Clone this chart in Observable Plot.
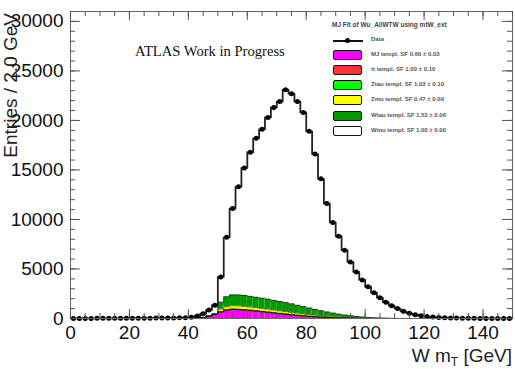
<!DOCTYPE html>
<html><head><meta charset="utf-8">
<script src="https://cdn.jsdelivr.net/npm/d3@7"></script>
<script src="https://cdn.jsdelivr.net/npm/@observablehq/plot@0.6"></script>
<style>
body{margin:0;background:#fff;}
#wrap{position:relative;width:515px;height:369px;overflow:hidden;font-family:"Liberation Sans",Arial,sans-serif;}
#legend{position:absolute;left:330px;top:19px;width:180px;height:120px;font-family:"Liberation Sans",Arial,sans-serif;color:#333;}
#legend .title{position:absolute;left:2px;top:2px;font-size:6.5px;font-weight:bold;white-space:nowrap;color:#444;}
#legend .row{position:absolute;left:3px;height:11px;width:170px;}
#legend .box{position:absolute;left:0;top:0;width:27px;height:8px;border:1.5px solid #111;border-radius:2px;}
#legend .lab{position:absolute;left:38px;top:1px;font-size:6px;white-space:nowrap;font-weight:bold;color:#555;}
#legend .dline{position:absolute;left:0;top:5px;width:30px;height:1.5px;background:#111;}
#legend .ddot{position:absolute;left:12px;top:3px;width:5px;height:5px;border-radius:50%;background:#000;}
</style></head><body><div id="wrap"><div id="chart"></div><div id="legend"></div></div>
<script>
// ---- data (2 GeV bins from 0 to 150) ----
const binWidth = 2;
const binLow = d3.range(0, 150, binWidth);
const dataCounts = [5,8,10,12,14,16,18,20,22,25,28,30,33,36,40,44,50,58,68,85,
  120,250,480,850,1350,4200,8200,11100,13300,15200,
  16800,18200,19100,20300,21300,21900,23100,22700,21900,20800,
  18900,16600,14100,11600,9700,8300,6900,5700,4700,3900,
  3200,2600,2100,1650,1300,1000,720,520,380,270,
  190,140,100,75,55,40,30,22,16,12,
  9,7,5,4,3];
const mjTempl = [0,0,0,0,0,0,0,0,0,0,0,0,0,0,0,0,0,0,0,0,
  0,30,100,250,450,650,830,900,880,840,790,730,670,610,540,480,420,360,300,250,200,160,125,95,70,50,35,25,18,12,8,5,3,2,1,
  0,0,0,0,0,0,0,0,0,0,0,0,0,0,0,0,0,0,0,0];
const ttTempl = [0,0,0,0,0,0,0,0,0,0,0,0,0,0,0,0,0,0,0,0,0,0,0,0,0,
  20,25,25,25,25,25,24,23,22,21,20,19,18,17,16,15,14,13,12,11,10,9,8,7,6,
  0,0,0,0,0,0,0,0,0,0,0,0,0,0,0,0,0,0,0,0,0,0,0,0,0];
const ztauTempl = [0,0,0,0,0,0,0,0,0,0,0,0,0,0,0,0,0,0,0,0,0,0,0,0,0,
  30,40,45,45,45,44,43,42,40,38,36,34,32,30,28,25,22,20,18,16,14,12,10,8,6,
  0,0,0,0,0,0,0,0,0,0,0,0,0,0,0,0,0,0,0,0,0,0,0,0,0];
const zmuTempl = [0,0,0,0,0,0,0,0,0,0,0,0,0,0,0,0,0,0,0,0,0,0,0,0,0,
  250,300,320,320,310,300,290,280,270,255,240,225,210,190,170,150,130,110,90,75,60,48,38,30,22,16,12,8,5,3,
  0,0,0,0,0,0,0,0,0,0,0,0,0,0,0,0,0,0,0,0];
const wtauTempl = [0,0,0,0,0,0,0,0,0,0,0,0,0,0,0,0,0,0,0,0,0,0,0,0,0,
  700,1000,1100,1110,1100,1080,1060,1040,1010,980,950,910,860,800,740,670,600,520,450,380,310,250,200,150,110,80,55,38,25,16,10,6,4,
  0,0,0,0,0,0,0,0,0,0,0,0,0,0,0,0,0];
const wmuTempl = [5,8,10,12,14,16,18,20,22,25,28,30,33,36,40,44,50,58,68,85,
  120,220,380,600,900,2550,6000,8710,10920,12880,14560,16050,17050,18350,19470,
  20170,21490,21220,20560,19600,17840,15670,13310,10935,9150,7860,6550,5420,4490,3745,
  3100,2530,2050,1620,1280,990,714,516,
  380,270,190,140,100,75,55,40,30,22,16,12,9,7,5,4,3];
const compNames = ["MJ templ. SF 0.60 \u00b1 0.03","tt templ. SF 1.00 \u00b1 0.10","Ztau templ. SF 1.03 \u00b1 0.10",
  "Zmu templ. SF 0.47 \u00b1 0.09","Wtau templ. SF 1.53 \u00b1 0.06","Wmu templ. SF 1.00 \u00b1 0.00"];
const compColors = ["#ff00ff","#ff3333","#00ff00","#ffff00","#009900","#ffffff"];
const compValues = [mjTempl, ttTempl, ztauTempl, zmuTempl, wtauTempl, wmuTempl];
const xMajor = [0,20,40,60,80,100,120,140];
const xMinor = d3.range(0, 151, 5);
const yMajor = [0,5000,10000,15000,20000,25000,30000];
const yMinor = d3.range(0, 31001, 1000);
const legendTitle = "MJ Fit of Wu_AllWTW using mtW_ext";

// ---- derived tables ----
const rects = [], outline = [];
binLow.forEach((lo, i) => {
  let base = 0;
  compValues.forEach((vals, k) => {
    const top = base + vals[i];
    rects.push({x1: lo, x2: lo + binWidth, y1: base, y2: top, color: compColors[k]});
    outline.push({x: lo, y: top, level: k});
    if (i === binLow.length - 1) outline.push({x: lo + binWidth, y: top, level: k});
    base = top;
  });
});
const points = binLow.map((lo, i) => ({x: lo + binWidth / 2, y: dataCounts[i]}));

const W = 515, H = 369, mL = 70, mR = 3, mT = 11, mB = 51;
const fw = W - mL - mR, fh = H - mT - mB;
const tickCol = "#555";

const chart = Plot.plot({
  width: W, height: H,
  marginLeft: mL, marginRight: mR, marginTop: mT, marginBottom: mB,
  x: {domain: [0, 150]},
  y: {domain: [0, 31000]},
  color: {type: "identity"},
  style: {fontFamily: "Liberation Sans, Arial, sans-serif", fontSize: "19px", color: "#111", background: "#fff"},
  marks: [
    Plot.rect(rects, {x1: "x1", x2: "x2", y1: "y1", y2: "y2", fill: "color"}),
    Plot.line(outline.filter(d => d.level < 5), {x: "x", y: "y", z: "level", curve: "step-after", stroke: "#111", strokeWidth: 0.7, strokeOpacity: 0.8}),
    Plot.line(outline.filter(d => d.level === 5), {x: "x", y: "y", curve: "step-after", stroke: "#222", strokeWidth: 1.8}),
    Plot.dot(points, {x: "x", y: "y", r: 2.5, fill: "#000"}),
    Plot.frame({stroke: "#666", strokeWidth: 1}),
    // inward ticks (ROOT style), all four sides
    Plot.tickX(xMajor, {x: d => d, insetTop: fh - 9, stroke: tickCol}),
    Plot.tickX(xMinor, {x: d => d, insetTop: fh - 5, stroke: tickCol}),
    Plot.tickX(xMajor, {x: d => d, insetBottom: fh - 9, stroke: tickCol}),
    Plot.tickX(xMinor, {x: d => d, insetBottom: fh - 5, stroke: tickCol}),
    Plot.tickY(yMajor, {y: d => d, insetRight: fw - 10, stroke: tickCol}),
    Plot.tickY(yMinor, {y: d => d, insetRight: fw - 5, stroke: tickCol}),
    Plot.tickY(yMajor, {y: d => d, insetLeft: fw - 10, stroke: tickCol}),
    Plot.tickY(yMinor, {y: d => d, insetLeft: fw - 5, stroke: tickCol}),
    Plot.axisX(xMajor, {tickSize: 0, tickPadding: 7, label: null, tickFormat: d => String(d)}),
    Plot.axisY(yMajor, {tickSize: 0, tickPadding: 7, label: null, tickFormat: d => String(d)})
  ]
});
document.getElementById("chart").appendChild(chart);

// annotations
const svg = d3.select(chart);
svg.append("text").attr("transform", "translate(17,13) rotate(-90)").attr("text-anchor", "end")
  .attr("font-size", 19).attr("fill", "#222").attr("font-family", "Liberation Sans, Arial, sans-serif")
  .text("Entries / 2.0 GeV");
const xt = svg.append("text").attr("x", 512).attr("y", 362).attr("text-anchor", "end")
  .attr("font-size", 19).attr("fill", "#222").attr("font-family", "Liberation Sans, Arial, sans-serif");
xt.append("tspan").text("W m");
xt.append("tspan").attr("dy", 4).attr("font-size", 12).text("T");
xt.append("tspan").attr("dy", -4).text(" [GeV]");
svg.append("text").attr("x", 135).attr("y", 56).attr("text-anchor", "start").attr("font-size", 14.6).attr("fill", "#111")
  .attr("font-family", "Liberation Serif, Times New Roman, serif").text("ATLAS Work in Progress");

// legend
const lg = d3.select("#legend");
lg.append("div").attr("class", "title").text(legendTitle);
const dr = lg.append("div").attr("class", "row").style("top", "16px");
dr.append("div").attr("class", "dline");
dr.append("div").attr("class", "ddot");
dr.append("div").attr("class", "lab").text("Data");
const rowTops = [31, 46, 61, 76, 91.5, 107];
compNames.forEach((name, k) => {
  const r = lg.append("div").attr("class", "row").style("top", rowTops[k] + "px");
  r.append("div").attr("class", "box").style("background", compColors[k]);
  r.append("div").attr("class", "lab").text(name);
});
</script></body></html>
